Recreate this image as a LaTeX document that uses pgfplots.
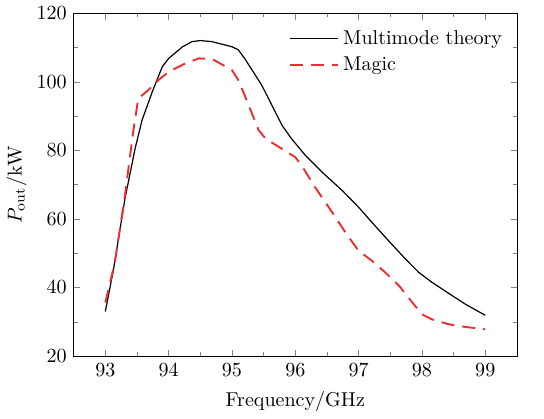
\documentclass[border=0pt]{standalone}
\usepackage{pgfplots}
\pgfplotsset{compat=1.18}
\definecolor{magicred}{RGB}{238,45,48}
\begin{document}
\begin{tikzpicture}
\begin{axis}[
  width=221pt, height=171pt, scale only axis,
  xmin=92.5, xmax=99.5, ymin=20, ymax=120,
  xtick={93,94,...,99}, ytick={20,40,...,120},
  minor x tick num=1, minor y tick num=1,
  tick align=inside, tick pos=both,
  major tick length=3.2pt, minor tick length=2pt,
  xlabel={Frequency/GHz}, ylabel={$P_{\mathrm{out}}/\mathrm{kW}$},
  xlabel style={yshift=-1pt}, ylabel style={yshift=-2pt},
  legend style={draw=none, fill=none, at={(0.99,0.975)}, anchor=north east, row sep=1pt},
  legend cell align=left,
  legend image code/.code={\draw[#1] (0pt,0pt) -- (24pt,0pt);},
]
\addplot[black, line width=0.6pt] coordinates {
(93.0,33) (93.13,45.4) (93.31,65.9) (93.47,80.5) (93.58,88.8) (93.74,97)
(93.9,104.4) (94.0,106.8) (94.22,110.2) (94.37,111.7) (94.5,112) (94.68,111.7)
(95.0,110.2) (95.1,109.3) (95.2,106.8) (95.47,99) (95.79,87.3) (95.94,83.4)
(96.16,78.5) (96.42,73.7) (96.74,68.3) (97.0,63.4) (97.21,59) (97.47,53.7)
(97.74,48.3) (97.95,44.4) (98.16,41.5) (98.48,37.6) (98.69,35.1) (99.0,31.9)
};
\addlegendentry{Multimode theory}
\addplot[magicred, line width=0.95pt, dash pattern=on 6.5pt off 4pt] coordinates {
(93.0,35.6) (93.15,47.3) (93.31,66.8) (93.44,85.4) (93.52,95.1) (93.68,97.6)
(93.84,100.5) (94.0,102.9) (94.27,105.4) (94.48,106.8) (94.69,106.6) (95.0,103.4)
(95.1,100.5) (95.21,95.6) (95.42,85.9) (95.53,83.4) (95.74,81) (96.0,78)
(96.1,75.6) (96.31,69.3) (96.58,62) (96.79,56.1) (97.0,50.7) (97.21,47.8)
(97.42,44.4) (97.64,40.5) (97.85,35.6) (98.0,32.2) (98.16,30.7) (98.42,29.3)
(98.69,28.5) (99.0,27.8)
};
\addlegendentry{Magic}
\end{axis}
\path (current axis.south east) ++(13.5pt,0pt);
\end{tikzpicture}
\end{document}
